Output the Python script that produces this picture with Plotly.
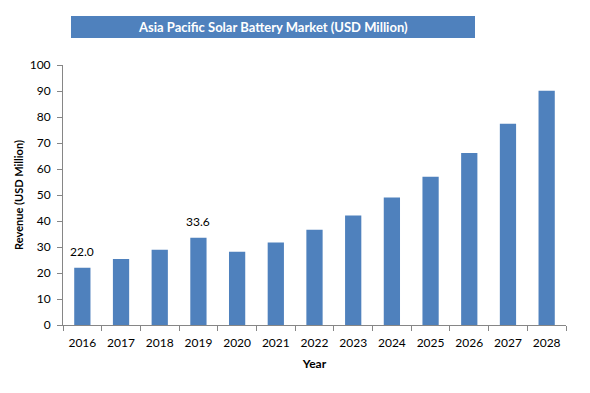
import plotly.graph_objects as go

years = ["2016", "2017", "2018", "2019", "2020", "2021", "2022",
         "2023", "2024", "2025", "2026", "2027", "2028"]
revenue = [22.0, 25.4, 28.9, 33.6, 28.2, 31.7, 36.6, 42.1, 49.0, 57.0, 66.2, 77.4, 90.1]
labels = ["22.0", "", "", "33.6", "", "", "", "", "", "", "", "", ""]
y_ticks = [0, 10, 20, 30, 40, 50, 60, 70, 80, 90, 100]

title_text = "Asia Pacific Solar Battery Market (USD Million)"
bar_color = "#4F81BD"
font_family = "Lato, Carlito, Calibri, sans-serif"

fig = go.Figure()
fig.add_trace(go.Bar(
    x=years, y=revenue,
    marker=dict(color=bar_color, line=dict(width=0)),
))

W, H = 590, 393
OFF = 8  # page body margin
px0, px1, py0, py1 = 63, 566, 65, 325
L = px0 - OFF
R = W - (px1 - OFF)
T = py0 - OFF
B = H - (py1 - OFF)
pw, ph = W - L - R, H - T - B

def xp(sx):
    return (sx - OFF - L) / pw

def yp(sy):
    return (H - B - (sy - OFF)) / ph

annotations = [dict(text="<b>" + title_text + "</b>", xref="paper", yref="paper",
                    x=xp(273), y=yp(27), xanchor="center", yanchor="middle",
                    showarrow=False,
                    font=dict(size=13, color="white", family=font_family))]
for i, (val, lab) in enumerate(zip(revenue, labels)):
    if lab:
        annotations.append(dict(text=lab, x=i, y=val, xref="x", yref="y",
                                xanchor="center", yanchor="bottom", yshift=7,
                                showarrow=False,
                                font=dict(size=12, color="#000000", family=font_family)))

fig.update_layout(
    width=W, height=H,
    margin=dict(l=L, r=R, t=T, b=B),
    paper_bgcolor="white", plot_bgcolor="white",
    bargap=0.58, showlegend=False,
    font=dict(family=font_family, size=12, color="#000000"),
    xaxis=dict(
        type="category", categoryorder="array", categoryarray=years,
        range=[-0.5, len(years) - 0.5],
        tickson="boundaries", ticks="outside", ticklen=5,
        tickcolor="#868686", showline=True, linecolor="#868686", linewidth=1,
        showgrid=False, tickfont=dict(size=12), automargin=False,
        ticklabelstandoff=7,
        title=dict(text="<b>Year</b>", font=dict(size=12), standoff=10),
    ),
    yaxis=dict(
        range=[0, 100], tickvals=y_ticks, ticks="outside", ticklen=5,
        tickcolor="#868686", showline=True, linecolor="#868686", linewidth=1,
        showgrid=False, zeroline=False, tickfont=dict(size=12), automargin=False,
        ticklabelstandoff=4,
        title=dict(text="<b>Revenue (USD Million)</b>", font=dict(size=11), standoff=3),
    ),
    shapes=[dict(type="rect", xref="paper", yref="paper",
                 x0=xp(71), x1=xp(475), y0=yp(38), y1=yp(16),
                 fillcolor=bar_color, line=dict(width=0), layer="above")],
    annotations=annotations,
)

fig.write_html("out.html")
